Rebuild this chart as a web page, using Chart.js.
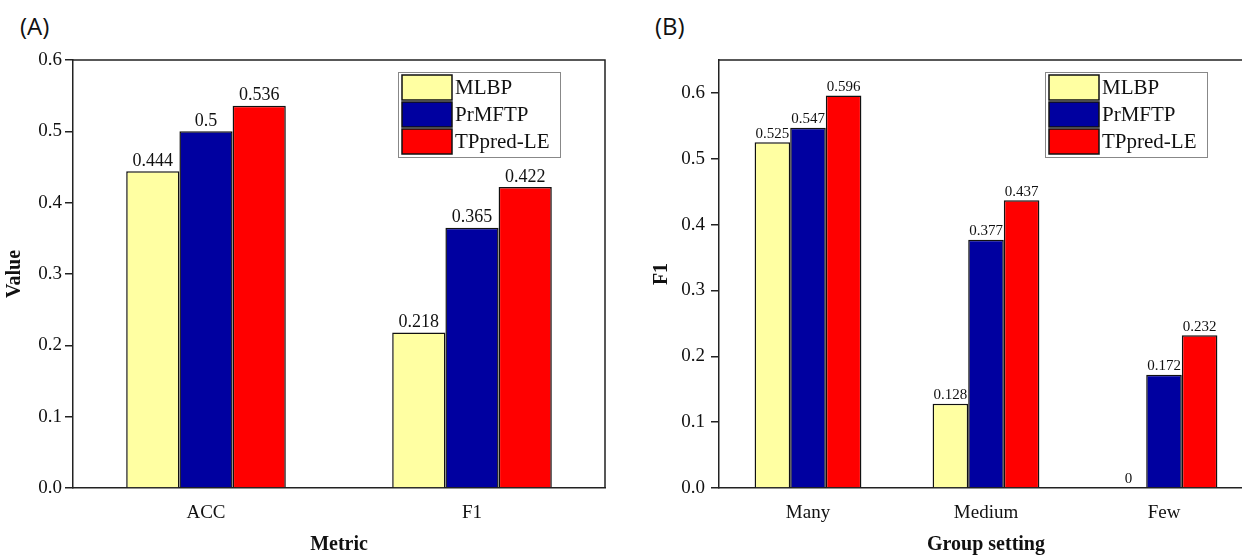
<!DOCTYPE html>
<html lang="en">
<head>
    <meta charset="UTF-8">
    <title>MLBP / PrMFTP / TPpred-LE comparison</title>
    <script src="https://cdn.jsdelivr.net/npm/chart.js"></script>
    <style>
        body { margin: 0; width: 1242px; height: 557px; overflow: hidden; background: #fff; position: relative; }
        .panel { position: absolute; top: 0; height: 557px; }
        .tag { position: absolute; top: 9px; font-family: "Open Sans", "Noto Sans", sans-serif; font-size: 24px; color: #111; }
    </style>
</head>
<body>
    <div class="tag" style="left: 20px;">(A)</div>
    <div class="tag" style="left: 655px;">(B)</div>

    <div class="panel" style="left: 0; width: 620px;"><canvas id="chartA"></canvas></div>
    <div class="panel" style="left: 630px; width: 640px;"><canvas id="chartB"></canvas></div>

    <script>
        // values
        const seriesNames = ['MLBP', 'PrMFTP', 'TPpred-LE'];
        const seriesColors = ['#FFFFA2', '#0000A0', '#FF0000'];

        const metricLabels = ['ACC', 'F1'];
        const mlbpA = [0.444, 0.218];
        const prmftpA = [0.5, 0.365];
        const tppredA = [0.536, 0.422];

        const groupLabels = ['Many', 'Medium', 'Few'];
        const mlbpB = [0.525, 0.128, 0];
        const prmftpB = [0.547, 0.377, 0.172];
        const tppredB = [0.596, 0.437, 0.232];

        const serif = '"Liberation Serif", "Times New Roman", serif';

        // top + right edge of the plot box
        const framePlugin = {
            id: 'frame',
            afterDraw(chart) {
                const { ctx, chartArea: a } = chart;
                ctx.save();
                ctx.strokeStyle = '#222';
                ctx.lineWidth = 1.5;
                ctx.beginPath();
                ctx.moveTo(a.left, a.top);
                ctx.lineTo(a.right, a.top);
                ctx.lineTo(a.right, a.bottom);
                ctx.stroke();
                ctx.restore();
            }
        };

        // numbers above the bars
        const valueLabels = {
            id: 'valueLabels',
            afterDatasetsDraw(chart, args, opts) {
                const ctx = chart.ctx;
                ctx.save();
                ctx.font = opts.size + 'px ' + serif;
                ctx.fillStyle = '#111';
                ctx.textAlign = 'center';
                ctx.textBaseline = 'bottom';
                chart.data.datasets.forEach((ds, i) => {
                    chart.getDatasetMeta(i).data.forEach((bar, j) => {
                        ctx.fillText(String(ds.data[j]), bar.x, bar.y - 1);
                    });
                });
                ctx.restore();
            }
        };

        // boxed legend inside the plot
        const boxLegend = {
            id: 'boxLegend',
            afterDraw(chart, args, opts) {
                const { ctx, chartArea: a } = chart;
                const x = a.left + opts.dx, y = a.top + opts.dy;
                const rowH = 27, w = 162, h = 85;
                ctx.save();
                ctx.fillStyle = '#fff';
                ctx.fillRect(x, y, w, h);
                ctx.strokeStyle = '#888';
                ctx.lineWidth = 1;
                ctx.strokeRect(x + 0.5, y + 0.5, w, h);
                ctx.font = '21px ' + serif;
                ctx.textBaseline = 'middle';
                chart.data.datasets.forEach((ds, i) => {
                    const ry = y + 3 + i * rowH;
                    ctx.fillStyle = ds.backgroundColor;
                    ctx.fillRect(x + 4, ry, 50, 25);
                    ctx.strokeStyle = '#111';
                    ctx.lineWidth = 1.5;
                    ctx.strokeRect(x + 4, ry, 50, 25);
                    ctx.fillStyle = '#111';
                    ctx.fillText(ds.label, x + 57, ry + 13);
                });
                ctx.restore();
            }
        };

        function makeDatasets(values) {
            return values.map((v, i) => ({
                label: seriesNames[i],
                data: v,
                backgroundColor: seriesColors[i],
                borderColor: '#111',
                borderWidth: 1.5,
                categoryPercentage: 0.6,
                barPercentage: 1.0
            }));
        }

        function makeChart(id, labels, values, cfg) {
            return new Chart(document.getElementById(id), {
                type: 'bar',
                data: { labels: labels, datasets: makeDatasets(values) },
                plugins: [framePlugin, valueLabels, boxLegend],
                options: {
                    responsive: true,
                    maintainAspectRatio: false,
                    animation: false,
                    layout: { padding: { top: 60, right: cfg.padRight, left: 0, bottom: 0 } },
                    plugins: {
                        legend: { display: false },
                        tooltip: { enabled: false },
                        valueLabels: { size: cfg.labelSize },
                        boxLegend: { dx: cfg.legendX, dy: 12 }
                    },
                    scales: {
                        x: {
                            grid: { display: false },
                            border: { display: true, color: '#222', width: 1.5 },
                            ticks: { color: '#111', padding: 6, font: { family: serif, size: 19 } },
                            title: { display: true, text: cfg.xTitle, color: '#111', padding: { top: 0, bottom: 0 },
                                     font: { family: serif, size: 20, weight: 'bold' } },
                            afterFit(s) { s.height = 69; }
                        },
                        y: {
                            min: 0,
                            max: cfg.yMax,
                            grid: { display: true, drawOnChartArea: false, drawTicks: true, tickLength: 8, color: '#222', lineWidth: 1.5 },
                            border: { display: true, color: '#222', width: 1.5 },
                            ticks: { stepSize: 0.1, includeBounds: false, color: '#111', padding: cfg.tickPad,
                                     font: { family: serif, size: 19 },
                                     callback: v => Number(v).toFixed(1) },
                            title: { display: true, text: cfg.yTitle, color: '#111', padding: { top: cfg.yTitlePad, bottom: 0 },
                                     font: { family: serif, size: 20, weight: 'bold' } },
                            afterFit(s) { s.width = cfg.yWidth; }
                        }
                    }
                }
            });
        }

        makeChart('chartA', metricLabels, [mlbpA, prmftpA, tppredA], {
            xTitle: 'Metric', yTitle: 'Value', yMax: 0.6, yWidth: 73, padRight: 15,
            tickPad: 3, yTitlePad: 3, labelSize: 18, legendX: 325
        });

        makeChart('chartB', groupLabels, [mlbpB, prmftpB, tppredB], {
            xTitle: 'Group setting', yTitle: 'F1', yMax: 0.65, yWidth: 89, padRight: 17,
            tickPad: 6, yTitlePad: 20, labelSize: 15, legendX: 326
        });
    </script>
</body>
</html>
